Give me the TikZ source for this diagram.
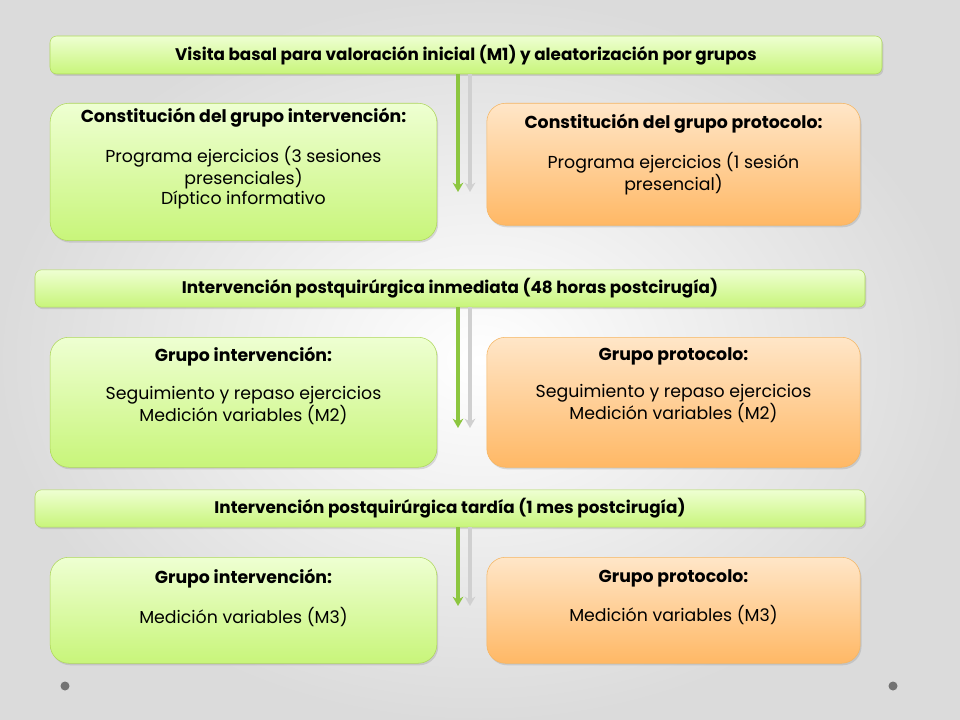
\documentclass[tikz,border=0pt]{standalone}
\usepackage{fontspec}
\setmainfont{Poppins}
\usetikzlibrary{shadows,arrows.meta}
\definecolor{gA}{HTML}{C8F57A}\definecolor{gB}{HTML}{EEFFD2}\definecolor{gD}{HTML}{9ACD32}
\definecolor{oA}{HTML}{FFB865}\definecolor{oB}{HTML}{FFE6C8}\definecolor{oD}{HTML}{F2A33A}
\definecolor{arG}{HTML}{8CC63F}\definecolor{arR}{HTML}{D0D0D0}
\tikzset{
 bar/.style={draw=gD!80,rounded corners=5pt,top color=gB,bottom color=gA,inner sep=0pt,font=\bfseries\fontsize{12.6}{14}\selectfont,drop shadow={opacity=0.25,shadow xshift=1pt,shadow yshift=-1.5pt}},
 gbox/.style={draw=gD!80,rounded corners=14pt,top color=gB,bottom color=gA,inner sep=0pt,align=center,drop shadow={opacity=0.25,shadow xshift=1pt,shadow yshift=-1.5pt}},
 obox/.style={gbox,draw=oD!80,top color=oB,bottom color=oA},
 txt/.style={anchor=north,align=center,inner sep=0pt,font=\fontsize{13}{15}\selectfont},
 ga/.style={arG,line width=3pt,-{Stealth[length=7pt,width=8pt]}},
 ra/.style={arR,line width=3pt,-{Stealth[length=7pt,width=8pt]}},
}
\begin{document}
\begin{tikzpicture}[x=0.75pt,y=-0.75pt]
\shade[inner color=white,outer color=black!14] (0,0) rectangle (960,720);
\useasboundingbox (0,0) rectangle (960,720);
% bars
\node[bar,minimum width=624pt,minimum height=28.5pt] (b1) at (466,55) {Visita basal para valoración inicial (M1) y aleatorización por grupos};
\node[bar,minimum width=622.5pt,minimum height=28pt] (b2) at (450,288.5) {Intervención postquirúrgica inmediata (48 horas postcirugía)};
\node[bar,minimum width=622.5pt,minimum height=28pt] (b3) at (450,508.5) {Intervención postquirúrgica tardía (1 mes postcirugía)};
% boxes
\node[gbox,minimum width=290pt,minimum height=103pt,anchor=north] (l1) at (243.5,103) {};
\node[txt] (l1t) at (243.5,108) {\textbf{Constitución del grupo intervención:}\\[13pt]Programa ejercicios (3 sesiones\\presenciales)\\Díptico informativo};
\node[obox,minimum width=280pt,minimum height=91.5pt,anchor=north] (r1) at (673.5,103) {};
\node[txt] (r1t) at (673.5,114) {\textbf{Constitución del grupo protocolo:}\\[13pt]Programa ejercicios (1 sesión\\presencial)};
\node[gbox,minimum width=290pt,minimum height=97.5pt,anchor=north] (l2) at (243.5,337) {};
\node[txt] (l2t) at (243.5,347) {\textbf{Grupo intervención:}\\[13pt]Seguimiento y repaso ejercicios\\Medición variables (M2)};
\node[obox,minimum width=280pt,minimum height=97.5pt,anchor=north] (r2) at (673.5,337) {};
\node[txt] (r2t) at (673.5,347) {\textbf{Grupo protocolo:}\\[13pt]Seguimiento y repaso ejercicios\\Medición variables (M2)};
\node[gbox,minimum width=290pt,minimum height=79.5pt,anchor=north] (l3) at (243.5,557) {};
\node[txt] (l3t) at (243.5,569) {\textbf{Grupo intervención:}\\[13pt]Medición variables (M3)};
\node[obox,minimum width=280pt,minimum height=79.5pt,anchor=north] (r3) at (673.5,557) {};
\node[txt] (r3t) at (673.5,569) {\textbf{Grupo protocolo:}\\[13pt]Medición variables (M3)};
% arrows
\coordinate (g1s) at (458,74); \coordinate (g1e) at (458,192);
\coordinate (r1s) at (470,74); \coordinate (r1e) at (470,192);
\coordinate (g2s) at (458,307); \coordinate (g2e) at (458,428);
\coordinate (r2s) at (470,307); \coordinate (r2e) at (470,428);
\coordinate (g3s) at (458,527); \coordinate (g3e) at (458,606);
\coordinate (r3s) at (470,527); \coordinate (r3e) at (470,606);
\draw[ra] (r1s)--(r1e); \draw[ga] (g1s)--(g1e);
\draw[ra] (r2s)--(r2e); \draw[ga] (g2s)--(g2e);
\draw[ra] (r3s)--(r3e); \draw[ga] (g3s)--(g3e);
\fill[black!55] (65,686) circle (4.5) (893,686) circle (4.5);
\end{tikzpicture}
\end{document}
